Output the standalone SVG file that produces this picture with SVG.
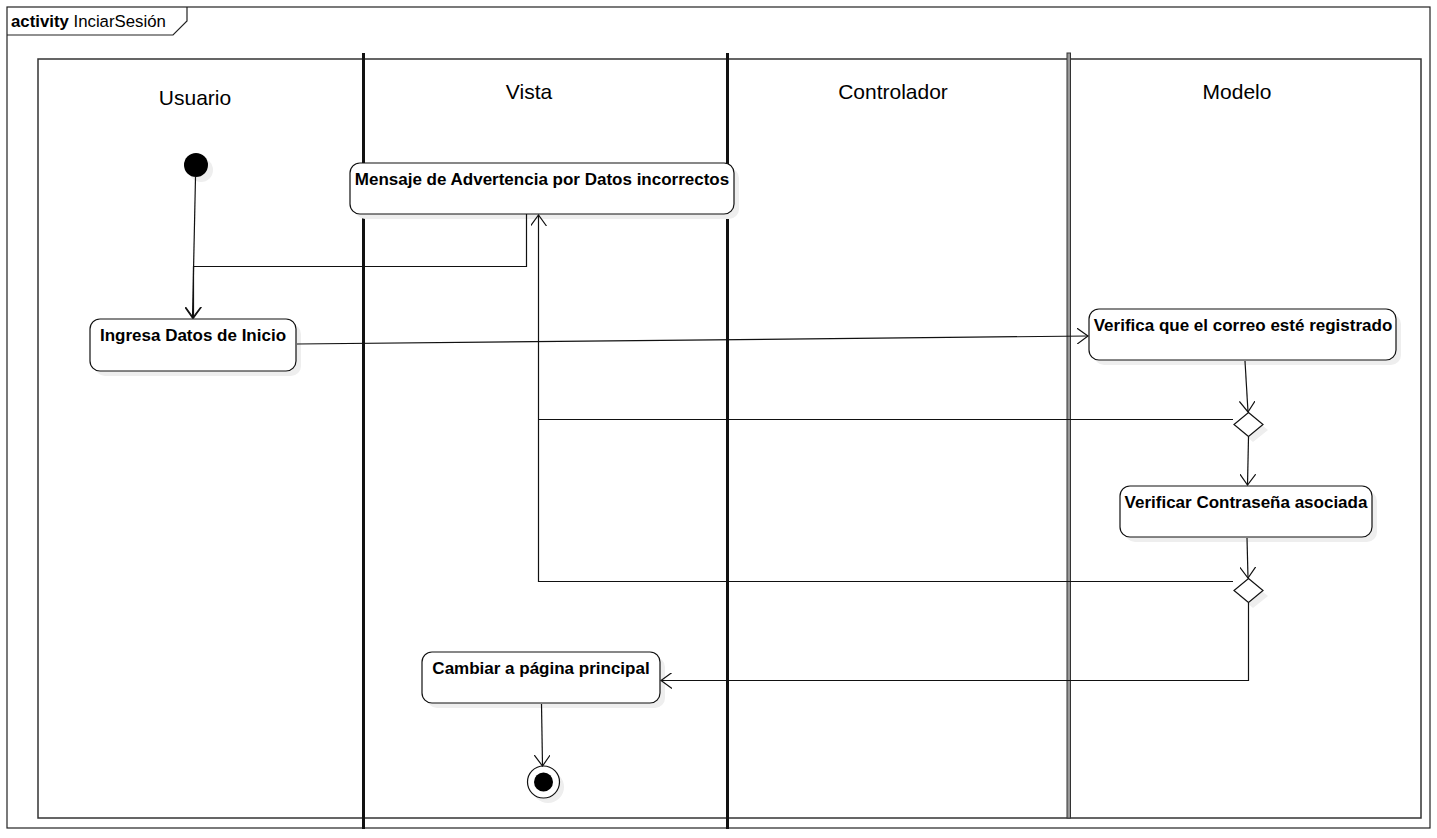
<svg xmlns="http://www.w3.org/2000/svg" width="1437" height="838" viewBox="0 0 1437 838">
<style>
.frame{fill:none;stroke:#222;stroke-width:1.2}
.lane{stroke:#111;stroke-width:3}
.hdr{font-family:"Liberation Sans",Arial,sans-serif;font-size:21px;fill:#000;text-anchor:middle}
.act{fill:#fff;stroke:#111;stroke-width:1.2}
.shadow{fill:#eeeeee;stroke:none}
.lbl{font-family:"Liberation Sans",Arial,sans-serif;font-size:17px;font-weight:bold;fill:#000;text-anchor:middle}
.edge{fill:none;stroke:#111;stroke-width:1.2}
</style>
<defs>
<marker id="arr" viewBox="0 0 12 16" refX="11" refY="8" markerWidth="12" markerHeight="16" markerUnits="userSpaceOnUse" orient="auto">
<path d="M0,0 L11,8 L0,16" fill="none" stroke="#111" stroke-width="1.2"/>
</marker>
</defs>
<rect x="0" y="0" width="1437" height="838" fill="#fff"/>
<g id="frame">
<rect class="frame" x="7" y="7" width="1423" height="821"/>
<path class="frame" d="M7,35 L173,35 L187,21 L187,7"/>
<text x="11" y="27" font-family="Liberation Sans,Arial,sans-serif" font-size="16.8"><tspan font-weight="bold">activity</tspan> InciarSesión</text>
</g>
<g id="lanes">
<rect x="38" y="59" width="1383" height="759" fill="none" stroke="#333" stroke-width="1.5"/>
<line class="lane" x1="363.5" y1="53" x2="363.5" y2="829"/>
<line class="lane" x1="727.5" y1="53" x2="727.5" y2="829"/>
<rect x="1067" y="53" width="3.5" height="765" fill="#999" stroke="#333" stroke-width="1"/>
<text class="hdr" x="195" y="105">Usuario</text>
<text class="hdr" x="529" y="99">Vista</text>
<text class="hdr" x="893" y="99">Controlador</text>
<text class="hdr" x="1237" y="99">Modelo</text>
</g>
<g id="start">
<circle cx="201" cy="170" r="12" class="shadow"/>
<circle cx="196" cy="165" r="12" fill="#000"/>
</g>
<g id="ingresa">
<rect class="shadow" x="95" y="324" width="206" height="52" rx="10"/>
<rect class="act" x="90" y="319" width="206" height="52" rx="10"/>
<text class="lbl" x="193" y="341">Ingresa Datos de Inicio</text>
</g>
<g id="mensaje">
<rect class="shadow" x="355" y="168" width="384" height="51" rx="10"/>
<rect class="act" x="350" y="163" width="384" height="51" rx="10"/>
<text class="lbl" x="542" y="185">Mensaje de Advertencia por Datos incorrectos</text>
</g>
<g id="verifica">
<rect class="shadow" x="1094" y="314" width="307" height="51" rx="10"/>
<rect class="act" x="1089" y="309" width="307" height="51" rx="10"/>
<text class="lbl" x="1243" y="331">Verifica que el correo esté registrado</text>
</g>
<g id="decision1">
<path class="shadow" d="M1253,418 L1268,430 L1253,442 L1239,430 Z"/>
<path d="M1248.5,412.5 L1263,424.5 L1248.5,436.5 L1234,424.5 Z" fill="#fff" stroke="#111" stroke-width="1.2"/>
</g>
<g id="contrasena">
<rect class="shadow" x="1125" y="491" width="252" height="51" rx="10"/>
<rect class="act" x="1120" y="486" width="252" height="51" rx="10"/>
<text class="lbl" x="1246" y="508">Verificar Contraseña asociada</text>
</g>
<g id="decision2">
<path class="shadow" d="M1253,584 L1268,596 L1253,608 L1239,596 Z"/>
<path d="M1248.5,578.5 L1263,590.5 L1248.5,602.5 L1234,590.5 Z" fill="#fff" stroke="#111" stroke-width="1.2"/>
</g>
<g id="cambiar">
<rect class="shadow" x="427" y="657" width="238" height="51" rx="10"/>
<rect class="act" x="422" y="652" width="238" height="51" rx="10"/>
<text class="lbl" x="541" y="674">Cambiar a página principal</text>
</g>
<g id="end">
<circle cx="548" cy="787" r="16" class="shadow"/>
<circle cx="543.5" cy="782" r="16" fill="#fff" stroke="#111" stroke-width="1.2"/>
<circle cx="543.5" cy="782" r="9.5" fill="#000"/>
</g>
<g id="connectors">
<path class="edge" d="M195.5,177 L192.5,318" marker-end="url(#arr)"/>
<path class="edge" d="M526.5,214 L526.5,266.5 L193.5,266.5 L193.5,318" marker-end="url(#arr)"/>
<path class="edge" d="M297,344 L1088,336" marker-end="url(#arr)"/>
<path class="edge" d="M1245,361 L1248,412" marker-end="url(#arr)"/>
<path class="edge" d="M1233,419.5 L538.5,419.5 L538.5,215" marker-end="url(#arr)"/>
<path class="edge" d="M1248.5,437 L1247.5,485" marker-end="url(#arr)"/>
<path class="edge" d="M1247,538 L1248,578" marker-end="url(#arr)"/>
<path class="edge" d="M1233,581.5 L538.5,581.5 L538.5,420"/>
<path class="edge" d="M1248.5,603 L1248.5,680.5 L661,680.5" marker-end="url(#arr)"/>
<path class="edge" d="M541.5,704 L542.5,766" marker-end="url(#arr)"/>
</g>
</svg>
